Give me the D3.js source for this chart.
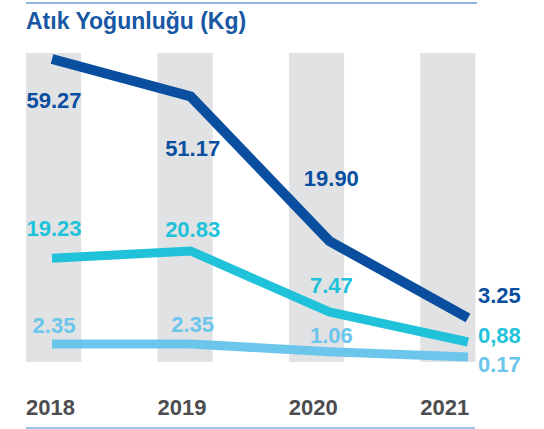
<!DOCTYPE html>
<html lang="tr">
<head>
<meta charset="utf-8">
<title>Atık Yoğunluğu</title>
<script src="https://cdn.jsdelivr.net/npm/d3@7"></script>
<style>
  body { margin: 0; background: #fff; }
  text { font-family: "Liberation Sans", Arial, sans-serif; font-weight: bold; }
</style>
</head>
<body>
<script>
// data
var years = ["2018", "2019", "2020", "2021"]
var darkValues = [59.27, 51.17, 19.90, 3.25]
var darkLabels = ["59.27", "51.17", "19.90", "3.25"]
var cyanValues = [19.23, 20.83, 7.47, 0.88]
var cyanLabels = ["19.23", "20.83", "7.47", "0,88"]
var lightValues = [2.35, 2.35, 1.06, 0.17]
var lightLabels = ["2.35", "2.35", "1.06", "0.17"]

var w = 544, h = 429

var svg = d3.select("body").append("svg")
  .attr("width", w)
  .attr("height", h)

// grey column bands
var xBand = d3.scaleBand().domain(years).range([26, 475.5]).paddingInner(0.58).paddingOuter(0)
// line positions
var xLine = d3.scalePoint().domain(years).range([52, 468])

// each series has its own vertical scale (the chart is not drawn to one axis)
var series = [
  { name: "light", values: lightValues, labels: lightLabels, color: "#6cc6ec",
    y: d3.scaleLinear().domain([0.17, 2.35]).range([357, 344]),
    dy: [-11, -12, -9, 15] },
  { name: "cyan", values: cyanValues, labels: cyanLabels, color: "#20c2d9",
    y: d3.scaleLinear().domain([0.88, 20.83]).range([342, 251]),
    dy: [-22, -14, -19, 1] },
  { name: "dark", values: darkValues, labels: darkLabels, color: "#0a4f9f",
    y: d3.scaleLinear().domain([3.25, 59.27]).range([318, 59]),
    dy: [49, 60, -55, -15] }
]

// rules
svg.append("line").attr("x1", 26).attr("x2", 477).attr("y1", 3).attr("y2", 3)
  .attr("stroke", "#6c9fd6").attr("stroke-width", 1.5)
svg.append("line").attr("x1", 26).attr("x2", 475).attr("y1", 428).attr("y2", 428)
  .attr("stroke", "#7fb1e2").attr("stroke-width", 1.5)

// title
svg.append("text")
  .attr("x", 26).attr("y", 29)
  .attr("font-size", 23)
  .attr("fill", "#1857a3")
  .text("Atık Yoğunluğu (Kg)")

// bands
svg.selectAll("rect.band")
  .data(years)
  .enter().append("rect")
  .attr("class", "band")
  .attr("x", function (d) { return xBand(d) })
  .attr("y", 53)
  .attr("width", xBand.bandwidth())
  .attr("height", 309)
  .attr("fill", "#e1e2e4")

// lines
series.forEach(function (s) {
  var line = d3.line()
    .x(function (d, i) { return xLine(years[i]) })
    .y(function (d) { return s.y(d) })
  svg.append("path")
    .datum(s.values)
    .attr("d", line)
    .attr("fill", "none")
    .attr("stroke", s.color)
    .attr("stroke-width", s.name == "dark" ? 10 : 9)
    .attr("stroke-linejoin", "miter")
})

// value labels
series.forEach(function (s) {
  svg.selectAll("text." + s.name)
    .data(s.values)
    .enter().append("text")
    .attr("class", s.name)
    .attr("x", function (d, i) { return i == 3 ? xLine(years[i]) + 10 : xLine(years[i]) + 2 })
    .attr("y", function (d, i) { return s.y(d) + s.dy[i] })
    .attr("text-anchor", function (d, i) { return i == 3 ? "start" : "middle" })
    .attr("font-size", 22)
    .attr("fill", s.color)
    .text(function (d, i) { return s.labels[i] })
})

// year labels
svg.selectAll("text.year")
  .data(years)
  .enter().append("text")
  .attr("class", "year")
  .attr("x", function (d) { return xBand(d) })
  .attr("y", 415)
  .attr("font-size", 22)
  .attr("fill", "#4d4d50")
  .text(function (d) { return d })
</script>
</body>
</html>
